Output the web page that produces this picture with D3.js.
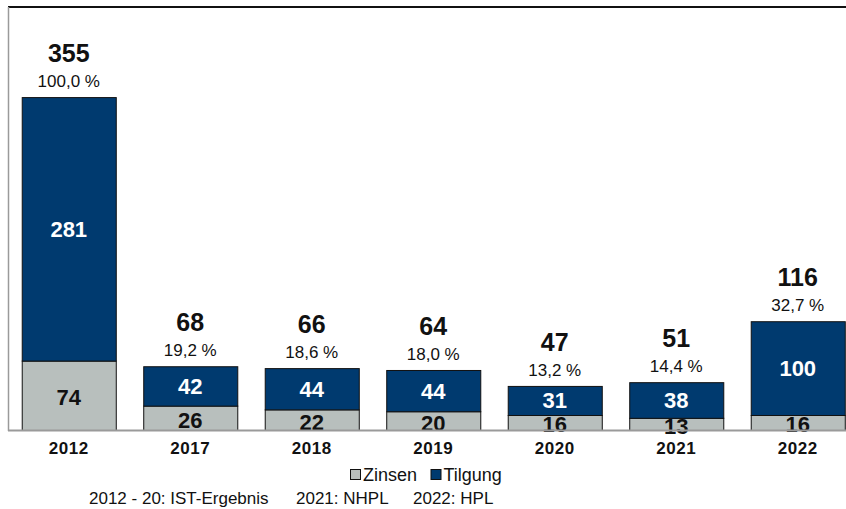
<!DOCTYPE html>
<html><head><meta charset="utf-8">
<script src="https://cdn.jsdelivr.net/npm/d3@7"></script>
<style>body{margin:0;background:#fff}svg{display:block;font-family:"Liberation Sans",Arial,sans-serif}</style>
</head><body><svg id="c" width="846" height="509"></svg>
<script>
const categories = ["2012","2017","2018","2019","2020","2021","2022"];
const zinsen = [74,26,22,20,16,13,16];
const tilgung = [281,42,44,44,31,38,100];
const totals = [355,68,66,64,47,51,116];
const percents = ["100,0 %","19,2 %","18,6 %","18,0 %","13,2 %","14,4 %","32,7 %"];
const legendLabels = ["Zinsen","Tilgung"];
const footnotes = ["2012 - 20: IST-Ergebnis","2021: NHPL","2022: HPL"];

const NAVY = "#003a6f", GRAY = "#b8bfbd";
const svg = d3.select("#c");
const x = d3.scaleBand().domain(categories).range([8, 858.5]).paddingInner(0.226).paddingOuter(0.113);
const y = d3.scaleLinear().domain([0, 450]).range([430, 8]);

const data = categories.map((c,i)=>({c, z:zinsen[i], t:tilgung[i], tot:totals[i], p:percents[i]}));

svg.append("line").attr("x1",8).attr("x2",846).attr("y1",7).attr("y2",7).attr("stroke","#111").attr("stroke-width",2);
svg.append("line").attr("x1",8.5).attr("x2",8.5).attr("y1",7).attr("y2",431).attr("stroke","#9a9a9a").attr("stroke-width",1.5);

const g = svg.append("g");
g.selectAll(".z").data(data).join("rect")
  .attr("x",d=>x(d.c)+0.5).attr("width",x.bandwidth())
  .attr("y",d=>y(d.z)+0.5).attr("height",d=>y(0)-y(d.z))
  .attr("fill",GRAY).attr("stroke","#111").attr("stroke-width",1);
g.selectAll(".t").data(data).join("rect")
  .attr("x",d=>x(d.c)+0.5).attr("width",x.bandwidth())
  .attr("y",d=>y(d.z+d.t)+0.5).attr("height",d=>y(d.z)-y(d.z+d.t))
  .attr("fill",NAVY).attr("stroke","#111").attr("stroke-width",1);

svg.append("line").attr("x1",8).attr("x2",846).attr("y1",430.5).attr("y2",430.5).attr("stroke","#9a9a9a").attr("stroke-width",2);

const cx = d=>x(d.c)+x.bandwidth()/2;
g.selectAll(".zl").data(data).join("text")
  .attr("x",cx).attr("y",d=>(y(0)+y(d.z))/2+10).attr("text-anchor","middle")
  .attr("font-size",22).attr("font-weight","bold").attr("fill","#111").text(d=>d.z);
g.selectAll(".tl").data(data).join("text")
  .attr("x",cx).attr("y",d=>(y(d.z)+y(d.z+d.t))/2+8).attr("text-anchor","middle")
  .attr("font-size",22).attr("font-weight","bold").attr("fill","#fff").text(d=>d.t);
g.selectAll(".tot").data(data).join("text")
  .attr("x",cx).attr("y",d=>y(d.tot)-35).attr("text-anchor","middle")
  .attr("font-size",25).attr("font-weight","bold").attr("fill","#111").text(d=>d.tot);
g.selectAll(".pc").data(data).join("text")
  .attr("x",cx).attr("y",d=>y(d.tot)-10).attr("text-anchor","middle")
  .attr("font-size",17).attr("fill","#111").text(d=>d.p);

g.selectAll(".cat").data(categories).join("text")
  .attr("x",c=>x(c)+x.bandwidth()/2).attr("y",454).attr("text-anchor","middle")
  .attr("font-size",17).attr("letter-spacing",0.5).attr("font-weight","bold").attr("fill","#111").text(c=>c);

const lg = svg.append("g");
const legX = [350, 430.5];
const legC = [GRAY, NAVY];
legendLabels.forEach((l,i)=>{
  lg.append("rect").attr("x",legX[i]+0.5).attr("y",469.5).attr("width",10).attr("height",10)
    .attr("fill",legC[i]).attr("stroke","#111").attr("stroke-width",1);
  lg.append("text").attr("x",legX[i]+13).attr("y",481).attr("font-size",18).attr("fill","#111").text(l);
});

const fx = [89, 296, 413];
footnotes.forEach((f,i)=>{
  svg.append("text").attr("x",fx[i]).attr("y",504).attr("font-size",17).attr("fill","#111").text(f);
});
</script></body></html>
